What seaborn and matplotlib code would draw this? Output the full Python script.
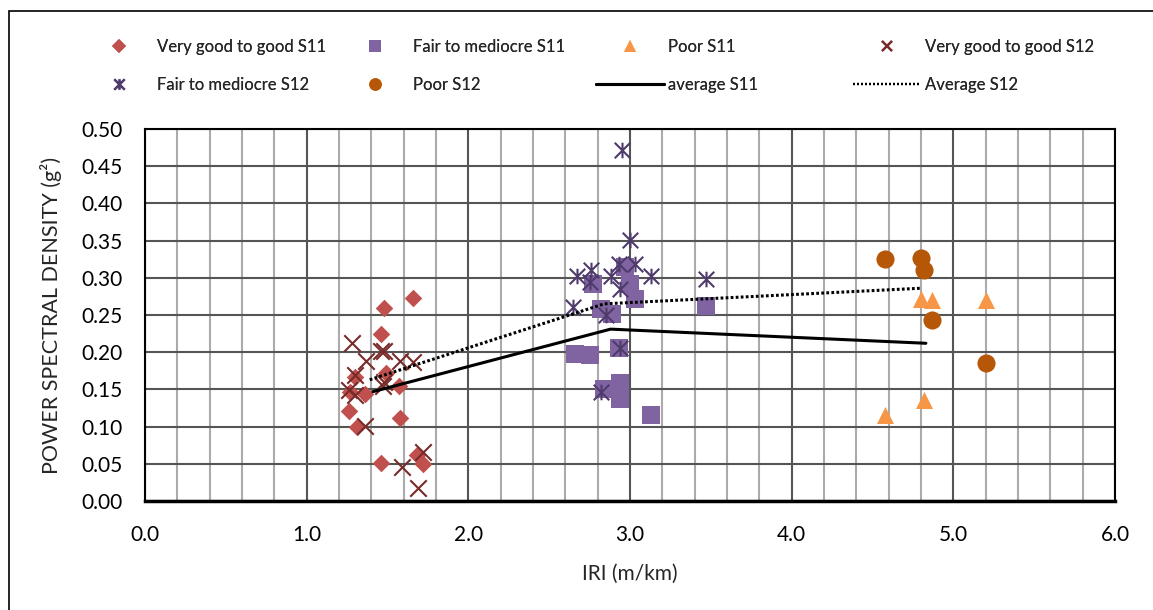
import matplotlib
matplotlib.use("Agg")
import matplotlib.pyplot as plt
from matplotlib.lines import Line2D
from matplotlib.path import Path
from matplotlib.patches import Rectangle
import seaborn as sns

# ---- data -------------------------------------------------------------
vg_s11_x = [1.48, 1.66, 1.46, 1.49, 1.30, 1.36, 1.27, 1.57, 1.26, 1.31, 1.58, 1.46, 1.68, 1.72]
vg_s11_y = [0.260, 0.273, 0.225, 0.172, 0.167, 0.144, 0.147, 0.154, 0.121, 0.100, 0.111, 0.051, 0.062, 0.050]

fm_s11_x = [2.97, 2.77, 3.00, 3.03, 3.47, 2.82, 2.89, 2.66, 2.75, 2.93, 2.84, 2.94, 2.94, 3.13]
fm_s11_y = [0.315, 0.292, 0.292, 0.271, 0.262, 0.258, 0.252, 0.198, 0.196, 0.205, 0.151, 0.158, 0.137, 0.116]

poor_s11_x = [4.80, 4.87, 5.20, 4.82, 4.58]
poor_s11_y = [0.272, 0.270, 0.270, 0.136, 0.115]

vg_s12_x = [1.28, 1.37, 1.46, 1.48, 1.58, 1.66, 1.30, 1.26, 1.30, 1.47, 1.48, 1.36, 1.59, 1.72, 1.69]
vg_s12_y = [0.213, 0.188, 0.201, 0.201, 0.188, 0.187, 0.169, 0.149, 0.142, 0.155, 0.160, 0.101, 0.046, 0.066, 0.017]

fm_s12_x = [2.95, 3.00, 2.93, 3.03, 2.67, 2.76, 2.75, 2.88, 3.13, 3.47, 2.94, 2.65, 2.85, 2.94, 2.82]
fm_s12_y = [0.472, 0.351, 0.319, 0.318, 0.302, 0.310, 0.295, 0.302, 0.302, 0.299, 0.285, 0.261, 0.250, 0.205, 0.146]

poor_s12_x = [4.58, 4.80, 4.82, 4.87, 5.20]
poor_s12_y = [0.325, 0.326, 0.310, 0.243, 0.185]

avg_s11_x = [1.41, 2.88, 4.83]
avg_s11_y = [0.147, 0.231, 0.212]
avg_s12_x = [1.39, 2.84, 4.80]
avg_s12_y = [0.163, 0.265, 0.286]

x_ticks = [0.0, 1.0, 2.0, 3.0, 4.0, 5.0, 6.0]
y_ticks = [0.00, 0.05, 0.10, 0.15, 0.20, 0.25, 0.30, 0.35, 0.40, 0.45, 0.50]

# ---- style ------------------------------------------------------------
sns.set_theme(style="white")
plt.rcParams["font.family"] = ["Lato", "DejaVu Sans"]

C_VG11 = "#C0504D"
C_FM11 = "#8064A2"
C_P11 = "#F79646"
C_VG12 = "#772C2A"
C_FM12 = "#4F3B6B"
C_P12 = "#B65708"

# six-armed star: vertical stroke plus two diagonals
star = Path(
    [(0, -1), (0, 1), (-1, -1), (1, 1), (-1, 1), (1, -1)],
    [Path.MOVETO, Path.LINETO, Path.MOVETO, Path.LINETO, Path.MOVETO, Path.LINETO],
)

fig = plt.figure(figsize=(11.53, 6.10), dpi=100)
ax = fig.add_axes([145 / 1153, 1 - 501 / 610, (1115 - 145) / 1153, (501 - 129) / 610])

# outer chart frame
fig.patches.append(Rectangle((9 / 1153, -0.1), 1.2, 1.1 - 11 / 610,
                             transform=fig.transFigure, fill=False,
                             edgecolor="black", linewidth=1.2, zorder=0))

# ---- scatter series ---------------------------------------------------
sns.scatterplot(x=vg_s11_x, y=vg_s11_y, ax=ax, marker="D", s=80, color=C_VG11,
                edgecolor=C_VG11, linewidth=0, zorder=3)
sns.scatterplot(x=fm_s11_x, y=fm_s11_y, ax=ax, marker="s", s=165, color=C_FM11,
                edgecolor=C_FM11, linewidth=0, zorder=3)
sns.scatterplot(x=poor_s11_x, y=poor_s11_y, ax=ax, marker="^", s=150, color=C_P11,
                edgecolor=C_P11, linewidth=0, zorder=3)
sns.scatterplot(x=vg_s12_x, y=vg_s12_y, ax=ax, marker="x", s=140, color=C_VG12,
                linewidth=1.5, zorder=4)
sns.scatterplot(x=fm_s12_x, y=fm_s12_y, ax=ax, marker=star, s=125, color=C_FM12,
                edgecolor=C_FM12, linewidth=1.5, zorder=4)
sns.scatterplot(x=poor_s12_x, y=poor_s12_y, ax=ax, marker="o", s=170, color=C_P12,
                edgecolor=C_P12, linewidth=0, zorder=3)

# ---- average lines ----------------------------------------------------
sns.lineplot(x=avg_s11_x, y=avg_s11_y, ax=ax, color="black", linewidth=2.2,
             sort=False, estimator=None, zorder=5)
sns.lineplot(x=avg_s12_x, y=avg_s12_y, ax=ax, color="black", linewidth=2.2,
             linestyle=(0, (0.9, 0.75)), sort=False, estimator=None, zorder=5)

# ---- axes -------------------------------------------------------------
ax.set_xlim(0, 6)
ax.set_ylim(0, 0.5)
ax.set_xticks(x_ticks)
ax.set_xticklabels([f"{v:.1f}" for v in x_ticks])
ax.set_yticks(y_ticks)
ax.set_yticklabels([f"{v:.2f}" for v in y_ticks])
ax.set_xticks([i * 0.2 for i in range(31)], minor=True)
ax.tick_params(axis="both", which="both", length=0, labelsize=15, colors="black")
ax.tick_params(axis="x", pad=17)
ax.tick_params(axis="y", pad=16)

ax.grid(False)
ax.grid(True, axis="x", which="minor", color="#ABABAB", linewidth=1.5, zorder=0)
ax.grid(True, axis="x", which="major", color="#555555", linewidth=1.5, zorder=1)
ax.grid(True, axis="y", which="major", color="#555555", linewidth=1.5, zorder=1)
ax.set_axisbelow(True)

for side in ["left", "right", "top"]:
    ax.spines[side].set_color("black")
    ax.spines[side].set_linewidth(1.5)
ax.spines["bottom"].set_color("black")
ax.spines["bottom"].set_linewidth(2.5)

ax.set_xlabel("IRI (m/km)", fontsize=15, labelpad=14)
ax.set_ylabel("POWER SPECTRAL DENSITY (g²)", fontsize=15.5, labelpad=14)

# ---- legend: four columns of two entries ------------------------------
def mk(marker, color, ms, mew=0.0, ls="none"):
    return Line2D([], [], marker=marker, color=color, markersize=ms,
                  markeredgewidth=mew, markeredgecolor=color, linestyle=ls)

columns = [
    ([mk("D", C_VG11, 7.5), mk(star, C_FM12, 7.5, 1.6)],
     ["Very good to good S11", "Fair to mediocre S12"]),
    ([mk("s", C_FM11, 8.5), mk("o", C_P12, 9)],
     ["Fair to mediocre S11", "Poor S12"]),
    ([mk("^", C_P11, 9), Line2D([], [], color="black", linewidth=2.2)],
     ["Poor S11", "average S11"]),
    ([mk("x", C_VG12, 7.5, 1.6), Line2D([], [], color="black", linewidth=1.6,
                                         linestyle=(0, (0.9, 0.9)))],
     ["Very good to good S12", "Average S12"]),
]
text_x = [157, 413, 668, 925]
for (handles, labels), tx in zip(columns, text_x):
    leg = fig.legend(handles, labels, loc="center left",
                     bbox_to_anchor=((tx - 72) / 1153, 1 - 66 / 610),
                     frameon=False, fontsize=12, handlelength=4.1,
                     handletextpad=0.2, labelspacing=1.3,
                     borderpad=0, borderaxespad=0)
    fig.add_artist(leg)

fig.savefig("out.png", dpi=100)
